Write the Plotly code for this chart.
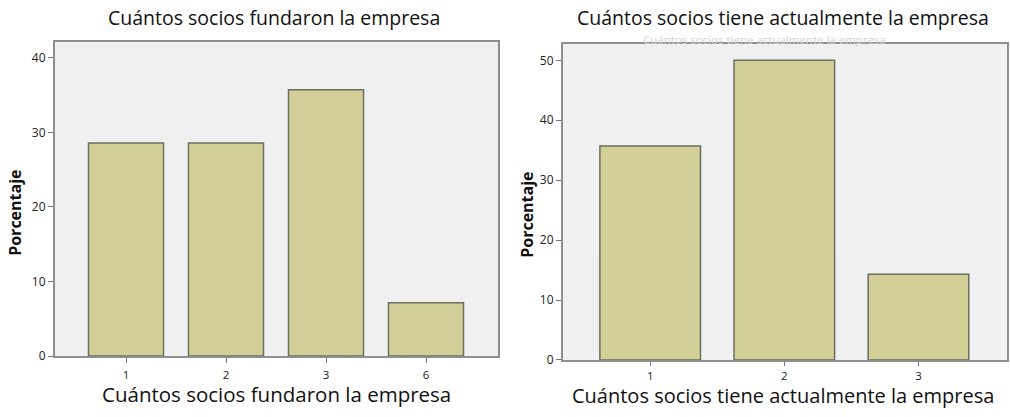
import plotly.graph_objects as go

W, H = 1010, 417

# Data
cats_fund = ["1", "2", "3", "6"]
pct_fund = [28.57, 28.57, 35.71, 7.14]
cats_act = ["1", "2", "3"]
pct_act = [35.71, 50.0, 14.29]

title_fund = "Cuántos socios fundaron la empresa"
title_act = "Cuántos socios tiene actualmente la empresa"
ytitle = "Porcentaje"

FONT = "Open Sans"
BAR_FILL = "#d3cf98"
BAR_LINE = "#6e6c5c"
FRAME = "#8e8e8e"
PLOT_BG = "#f0f0f0"

def px_x(p):
    return p / W

def px_y(p):
    return 1 - p / H

fig = go.Figure()
fig.add_trace(go.Bar(x=cats_fund, y=pct_fund, width=0.75,
                     marker=dict(color=BAR_FILL, line=dict(color=BAR_LINE, width=1.5)),
                     xaxis="x", yaxis="y", showlegend=False, hoverinfo="skip"))
fig.add_trace(go.Bar(x=cats_act, y=pct_act, width=0.75,
                     marker=dict(color=BAR_FILL, line=dict(color=BAR_LINE, width=1.5)),
                     xaxis="x2", yaxis="y2", showlegend=False, hoverinfo="skip"))

axis_common = dict(showline=True, linecolor=FRAME, linewidth=2, mirror=True,
                   showgrid=False, zeroline=False, ticks="outside",
                   tickcolor="#777777", tickwidth=1)
yfont = dict(family=FONT, size=12, color="#222222")
xfont = dict(family=FONT, size=11.5, color="#222222")

fig.update_layout(
    width=W, height=H,
    margin=dict(l=0, r=0, t=0, b=0),
    paper_bgcolor="white",
    plot_bgcolor=PLOT_BG,
    bargap=0.25,
    xaxis=dict(domain=[px_x(55), px_x(498)], type="category",
               range=[-0.71, 3.72], anchor="y", ticklen=5, ticklabelstandoff=2,
               tickfont=xfont, **axis_common),
    yaxis=dict(domain=[px_y(363), px_y(43)], range=[0, 42.1], anchor="x",
               ticklen=5, tickvals=[0, 10, 20, 30, 40], tickfont=yfont, **axis_common),
    xaxis2=dict(domain=[px_x(563), px_x(1007)], type="category",
                range=[-0.65, 2.66], anchor="y2", ticklen=4, ticklabelstandoff=0,
                tickfont=xfont, **axis_common),
    yaxis2=dict(domain=[px_y(367), px_y(45)], range=[0, 52.7], anchor="x2",
                ticklen=5, tickvals=[0, 10, 20, 30, 40, 50], tickfont=yfont, **axis_common),
)

ann = []
# faint ghost title (drawn first, beneath)
ann.append(dict(text=title_act, x=px_x(764), y=px_y(40), xref="paper", yref="paper",
                showarrow=False, xanchor="center", yanchor="middle",
                font=dict(family=FONT, size=11.5, color="#d2d2d2")))
# Top titles
ann.append(dict(text=title_fund, x=px_x(274), y=px_y(18), xref="paper", yref="paper",
                showarrow=False, xanchor="center", yanchor="middle",
                font=dict(family=FONT, size=19.5, color="#111111")))
ann.append(dict(text=title_act, x=px_x(783), y=px_y(18), xref="paper", yref="paper",
                showarrow=False, xanchor="center", yanchor="middle",
                font=dict(family=FONT, size=19.5, color="#111111")))
# Bottom axis titles
ann.append(dict(text=title_fund, x=px_x(276), y=px_y(402), xref="paper", yref="paper",
                showarrow=False, xanchor="center", yanchor="middle",
                font=dict(family=FONT, size=20.5, color="#111111")))
ann.append(dict(text=title_act, x=px_x(783), y=px_y(403), xref="paper", yref="paper",
                showarrow=False, xanchor="center", yanchor="middle",
                font=dict(family=FONT, size=20, color="#111111")))
# Y axis titles
ann.append(dict(text="<b>" + ytitle + "</b>", x=px_x(15), y=px_y(217), xref="paper", yref="paper",
                showarrow=False, xanchor="center", yanchor="middle", textangle=-90,
                font=dict(family=FONT, size=16, color="#111111")))
ann.append(dict(text="<b>" + ytitle + "</b>", x=px_x(527), y=px_y(219), xref="paper", yref="paper",
                showarrow=False, xanchor="center", yanchor="middle", textangle=-90,
                font=dict(family=FONT, size=16, color="#111111")))
fig.update_layout(annotations=ann)

fig.write_html("out.html", config={"displayModeBar": False},
               post_script="document.body.style.margin='0px';")
